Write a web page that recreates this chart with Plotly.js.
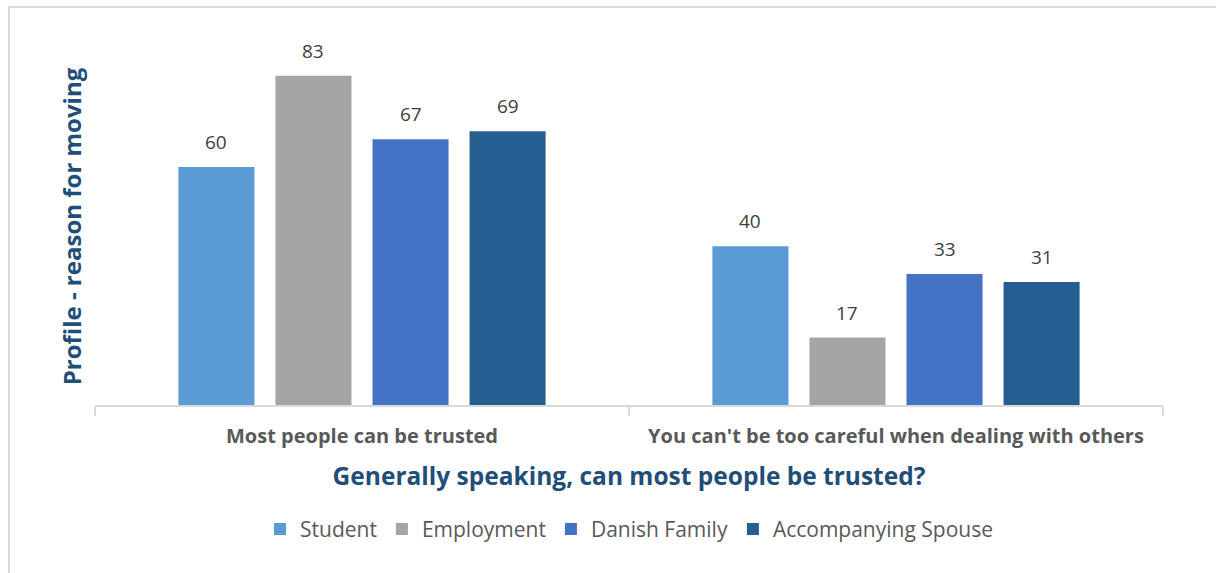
<!DOCTYPE html>
<html>
<head>
<meta charset="utf-8">
<script src="https://cdn.plot.ly/plotly-3.0.1.min.js"></script>
<style>
  html, body { margin: 0; padding: 0; background: #ffffff; }
  #wrap { position: relative; width: 1216px; height: 573px; }
  #chart { width: 1216px; height: 573px; }
  #frame { position: absolute; left: 8px; top: 6px; right: 0; bottom: 0;
           border-top: 2px solid #D9D9D9; border-left: 2px solid #D9D9D9; pointer-events: none; }
</style>
</head>
<body>
<div id="wrap">
  <div id="chart"></div>
  <div id="frame"></div>
</div>
<script>
const categories = ["Most people can be trusted", "You can't be too careful when dealing with others"];
const seriesNames = ["Student", "Employment", "Danish Family", "Accompanying Spouse"];
const student = [60, 40];
const employment = [83, 17];
const danishFamily = [67, 33];
const accompanyingSpouse = [69, 31];
const seriesValues = [student, employment, danishFamily, accompanyingSpouse];
const colors = ["#5B9BD5", "#A5A5A5", "#4472C4", "#255E91"];

const font = "'Open Sans', Lato, sans-serif";
const bargap = 0.273;
const nSeries = seriesNames.length;
const slot = (1 - bargap) / nSeries;

const traces = seriesNames.map((name, i) => ({
  type: "bar",
  name: name,
  x: categories,
  y: seriesValues[i],
  marker: { color: colors[i] },
  hoverinfo: "x+y+name"
}));

const annotations = [];
seriesValues.forEach((vals, i) => {
  vals.forEach((v, j) => {
    annotations.push({
      xref: "x", yref: "y",
      x: j + (i - (nSeries - 1) / 2) * slot,
      y: v,
      text: String(v),
      showarrow: false,
      yanchor: "bottom",
      yshift: 10,
      font: { family: font, size: 19, color: "#404040" }
    });
  });
});

const layout = {
  width: 1216, height: 573,
  margin: { l: 95, r: 53, t: 48, b: 168 },
  paper_bgcolor: "#ffffff",
  plot_bgcolor: "#ffffff",
  barmode: "group",
  bargap: bargap,
  bargroupgap: 0.2165,
  showlegend: true,
  legend: {
    orientation: "h", x: 0.5, xanchor: "center", xref: "paper",
    yref: "container", y: 0.112, yanchor: "top",
    font: { family: font, size: 21, color: "#595959" },
    itemwidth: 30, traceorder: "normal"
  },
  xaxis: {
    type: "category",
    automargin: false,
    tickvals: categories,
    ticktext: categories.map(c => "<b>" + c + "</b>"),
    showline: true, linecolor: "#D9D9D9", linewidth: 2,
    ticks: "outside", tickson: "boundaries", ticklen: 9, tickcolor: "#D9D9D9", tickwidth: 2,
    tickfont: { family: font, size: 20, color: "#595959" },
    ticklabelstandoff: 12,
    title: {
      text: "<b>Generally speaking, can most people be trusted?</b>",
      font: { family: font, size: 24.5, color: "#1F4E79" },
      standoff: 20
    },
    showgrid: false, zeroline: false, fixedrange: true
  },
  yaxis: {
    range: [0, 90],
    automargin: false,
    showticklabels: false, showgrid: false, zeroline: false, showline: false, ticks: "",
    title: {
      text: "<b>Profile - reason for moving</b>",
      font: { family: font, size: 24, color: "#1F4E79" },
      standoff: 5
    },
    fixedrange: true
  },
  annotations: annotations
};

Plotly.newPlot("chart", traces, layout, { displayModeBar: false, staticPlot: true });
</script>
</body>
</html>
